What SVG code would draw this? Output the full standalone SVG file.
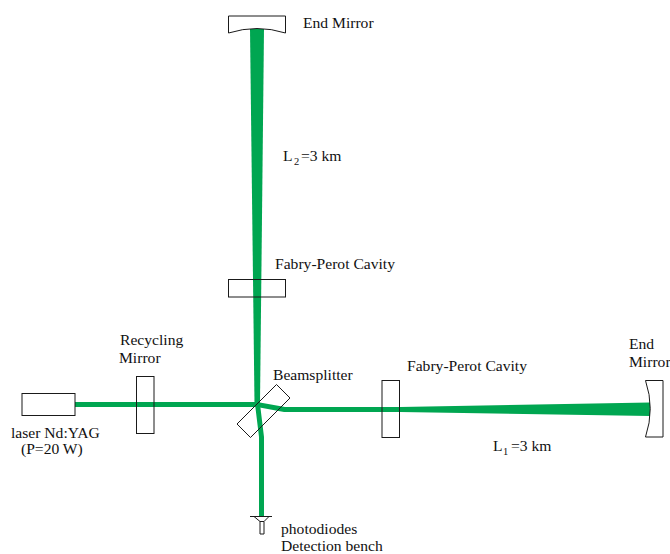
<svg xmlns="http://www.w3.org/2000/svg" width="670" height="554" viewBox="0 0 670 554">
<style>
.o{fill:none;stroke:#1a1a1a;stroke-width:1}
.b{fill:#00a651;stroke:none}
text{font-family:"Liberation Serif","Times New Roman",serif;font-size:15.6px;fill:#111}
.s{font-size:10.500px}
</style>
<rect width="670" height="554" fill="#fff"/>
<g id="connectors">
<polygon class="b" points="250,29 264,29 260,404 254.500,404"/>
<rect class="b" x="75" y="402" width="184" height="5"/>
<polygon class="b" points="257,402 285,407 400,407 650,402.500 650,416 400,412 284,412 257,407"/>
<polygon class="b" points="255,404 260,404 264,437 264,516 259,516 259,437"/>
</g>
<g id="end-mirror-top"><path class="o" d="M228.500,16H285.500V33Q257,24 228.500,33Z"/><text x="303" y="28">End Mirror</text></g>
<g id="l2-label"><text x="283" y="161">L</text><text class="s" x="294" y="165">2</text><text x="301" y="161">=3 km</text></g>
<g id="fp-top"><rect class="o" x="228.500" y="279.500" width="57" height="17.500"/><text x="275" y="269">Fabry-Perot Cavity</text></g>
<g id="laser"><rect class="o" x="22" y="393.500" width="53" height="22"/><text x="11" y="437.500">laser Nd:YAG</text><text x="21" y="454">(P=20 W)</text></g>
<g id="recycling"><rect class="o" x="136.500" y="376.500" width="17.500" height="57"/><text x="120" y="345">Recycling</text><text x="119" y="363">Mirror</text></g>
<g id="beamsplitter"><polygon class="o" points="276.500,384.500 290,398 250.500,437.500 237,424"/><text x="273" y="380">Beamsplitter</text></g>
<g id="fp-right"><rect class="o" x="382" y="380.500" width="17.500" height="57"/><text x="407" y="370.500">Fabry-Perot Cavity</text></g>
<g id="end-mirror-right"><path class="o" d="M645.500,380.500H663V437H645.500Q655,408.700 645.500,380.500Z"/><text x="629" y="349">End</text><text x="629" y="367">Mirror</text></g>
<g id="l1-label"><text x="493" y="451">L</text><text class="s" x="503" y="455">1</text><text x="511" y="451">=3 km</text></g>
<g id="photodiodes"><path class="o" d="M250,516.500H272M254,516.500L260,521.500V534H264V521.500L269,516.500M260,521.500H264"/><text x="281" y="534">photodiodes</text><text x="281" y="551">Detection bench</text></g>
</svg>
